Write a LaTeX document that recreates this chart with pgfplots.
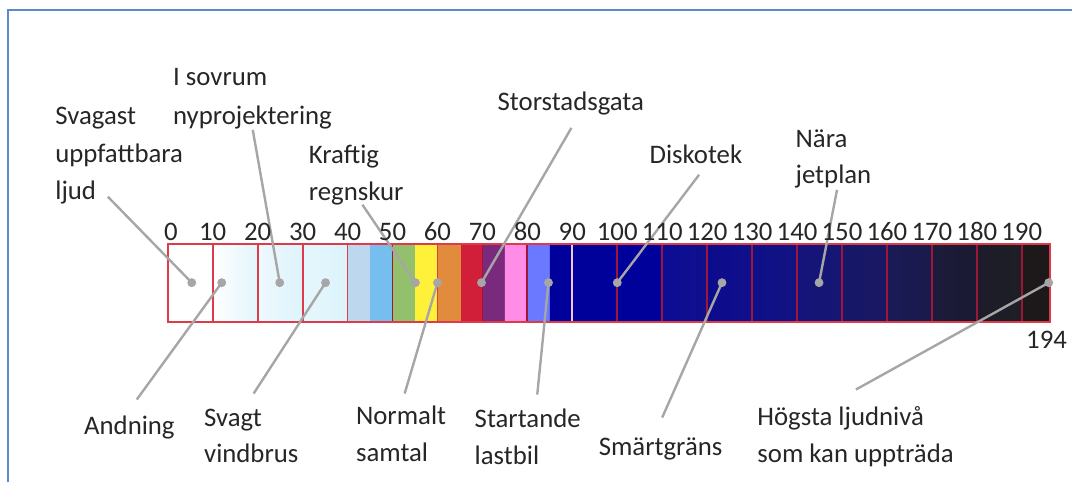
\documentclass[border=0pt]{standalone}
\usepackage{pgfplots}
\pgfplotsset{compat=1.18}
\usepackage{fontspec}
\setmainfont{Carlito}
\definecolor{txt}{HTML}{262626}
\definecolor{frameblue}{HTML}{5A8ACB}
\definecolor{lead}{HTML}{A6A6A6}
\definecolor{bord}{HTML}{DD3A4A}
\definecolor{darkbord}{HTML}{A01538}
\definecolor{whitesep}{HTML}{F0C8D7}
\tikzset{lbl/.style={font=\fontsize{13.4}{16}\selectfont, text=txt, inner sep=0pt, yshift=-1.5pt}}
\newcommand{\seg}[4]{\addplot[draw=none, left color=#3, right color=#4, forget plot] coordinates {(#1,244) (#2,244) (#2,322) (#1,322)} -- cycle;}
\newcommand{\sep}[2]{\addplot[#2, line width=0.9pt, forget plot] coordinates {(#1,244) (#1,322)};}
\begin{document}
\begin{tikzpicture}
\begin{axis}[width=536.5pt, height=241.5pt, scale only axis,
  xmin=-37.333, xmax=201.111, ymin=0, ymax=483, y dir=reverse,
  hide axis, clip=false]
\addplot[draw=none, forget plot] coordinates {(-37.333,0) (201.111,483)};
% frame
\addplot[frameblue, line width=1.3pt] coordinates {(-35.56,483) (-35.56,10) (201.111,10)};
% colour segments (dB from, dB to, left colour, right colour)
\seg{0}{10}{white}{white}
\seg{10}{20}{white}{{rgb,255:red,226;green,245;blue,252}}
\seg{20}{30}{{rgb,255:red,238;green,249;blue,253}}{{rgb,255:red,221;green,243;blue,251}}
\seg{30}{40}{{rgb,255:red,230;green,247;blue,253}}{{rgb,255:red,219;green,243;blue,251}}
\seg{40}{45}{{rgb,255:red,189;green,215;blue,238}}{{rgb,255:red,189;green,215;blue,238}}
\seg{45}{50}{{rgb,255:red,117;green,190;blue,238}}{{rgb,255:red,117;green,190;blue,238}}
\seg{50}{55}{{rgb,255:red,146;green,192;blue,108}}{{rgb,255:red,146;green,192;blue,108}}
\seg{55}{60}{{rgb,255:red,255;green,240;blue,58}}{{rgb,255:red,255;green,240;blue,58}}
\seg{60}{65.3}{{rgb,255:red,225;green,140;blue,60}}{{rgb,255:red,225;green,140;blue,60}}
\seg{65.3}{70}{{rgb,255:red,209;green,31;blue,58}}{{rgb,255:red,209;green,31;blue,58}}
\seg{70}{75}{{rgb,255:red,122;green,42;blue,124}}{{rgb,255:red,122;green,42;blue,124}}
\seg{75}{80}{{rgb,255:red,255;green,140;blue,230}}{{rgb,255:red,255;green,140;blue,230}}
\seg{80}{85}{{rgb,255:red,106;green,121;blue,255}}{{rgb,255:red,106;green,121;blue,255}}
\seg{85}{90}{{rgb,255:red,0;green,0;blue,154}}{{rgb,255:red,0;green,0;blue,154}}
\seg{90}{110}{{rgb,255:red,0;green,0;blue,154}}{{rgb,255:red,0;green,0;blue,154}}
\seg{110}{120}{{rgb,255:red,12;green,12;blue,150}}{{rgb,255:red,16;green,16;blue,140}}
\seg{120}{130}{{rgb,255:red,11;green,11;blue,142}}{{rgb,255:red,16;green,16;blue,138}}
\seg{130}{140}{{rgb,255:red,14;green,16;blue,136}}{{rgb,255:red,18;green,18;blue,130}}
\seg{140}{150}{{rgb,255:red,20;green,20;blue,124}}{{rgb,255:red,22;green,22;blue,114}}
\seg{150}{160}{{rgb,255:red,23;green,23;blue,106}}{{rgb,255:red,24;green,24;blue,98}}
\seg{160}{170}{{rgb,255:red,26;green,26;blue,88}}{{rgb,255:red,26;green,26;blue,74}}
\seg{170}{180}{{rgb,255:red,27;green,27;blue,60}}{{rgb,255:red,26;green,26;blue,50}}
\seg{180}{190}{{rgb,255:red,28;green,28;blue,44}}{{rgb,255:red,30;green,30;blue,36}}
\seg{190}{196.2}{{rgb,255:red,29;green,25;blue,26}}{{rgb,255:red,29;green,25;blue,26}}
% separators
\sep{10}{bord}\sep{20}{bord}\sep{30}{bord}\sep{40}{bord}
\sep{50}{darkbord}\sep{60}{bord}\sep{70}{darkbord}\sep{80}{darkbord}
\sep{90}{whitesep}
\sep{100}{darkbord}\sep{110}{darkbord}\sep{120}{darkbord}\sep{130}{darkbord}
\sep{140}{darkbord}\sep{150}{darkbord}\sep{160}{darkbord}\sep{170}{darkbord}
\sep{180}{darkbord}\sep{190}{darkbord}
\addplot[bord, line width=0.9pt, forget plot] coordinates {(0,244) (196.2,244) (196.2,322) (0,322)} -- cycle;
% leader lines (label end, dot)
\addplot[lead, line width=1.2pt] coordinates {(-13.33,197) (5.33,283)};
\addplot[lead, line width=1.2pt] coordinates {(18.9,130) (24.9,283)};
\addplot[lead, line width=1.2pt] coordinates {(43.3,205) (55.1,283)};
\addplot[lead, line width=1.2pt] coordinates {(89.8,128) (69.8,283)};
\addplot[lead, line width=1.2pt] coordinates {(118.2,175) (100.0,283)};
\addplot[lead, line width=1.2pt] coordinates {(148.9,190) (144.9,283)};
\addplot[lead, line width=1.2pt] coordinates {(-6.9,400) (12.0,283)};
\addplot[lead, line width=1.2pt] coordinates {(19.1,394) (35.1,283)};
\addplot[lead, line width=1.2pt] coordinates {(52.7,394) (60.0,283)};
\addplot[lead, line width=1.2pt] coordinates {(82.2,395) (84.7,283)};
\addplot[lead, line width=1.2pt] coordinates {(110.0,418) (123.3,283)};
\addplot[lead, line width=1.2pt] coordinates {(153.1,390) (196.0,283)};
% dots
\addplot[only marks, mark=*, mark size=2pt, lead] coordinates {
(5.33,283) (12.0,283) (24.9,283) (35.1,283) (55.1,283) (60.0,283)
(69.8,283) (84.7,283) (100.0,283) (123.3,283) (144.9,283) (196.0,283)};
% scale numbers
\pgfplotsinvokeforeach{10,20,...,190}{\node[lbl, anchor=base] at (axis cs:#1,238) {#1};}
\node[lbl, anchor=base] at (axis cs:0.7,238) {0};
\node[lbl, anchor=base west] at (axis cs:190.9,346) {194};
% labels
\node[lbl, anchor=base west] at (axis cs:-25.1,122) {Svagast};
\node[lbl, anchor=base west] at (axis cs:-25.1,160) {uppfattbara};
\node[lbl, anchor=base west] at (axis cs:-25.1,197) {ljud};
\node[lbl, anchor=base west] at (axis cs:1.1,83) {I sovrum};
\node[lbl, anchor=base west] at (axis cs:1.1,122) {nyprojektering};
\node[lbl, anchor=base west] at (axis cs:31.3,161) {Kraftig};
\node[lbl, anchor=base west] at (axis cs:31.3,198) {regnskur};
\node[lbl, anchor=base west] at (axis cs:73.3,108) {Storstadsgata};
\node[lbl, anchor=base west] at (axis cs:107.1,161) {Diskotek};
\node[lbl, anchor=base west] at (axis cs:139.6,145) {Nära};
\node[lbl, anchor=base west] at (axis cs:139.6,181) {jetplan};
\node[lbl, anchor=base west] at (axis cs:-18.7,432) {Andning};
\node[lbl, anchor=base west] at (axis cs:8,424) {Svagt};
\node[lbl, anchor=base west] at (axis cs:8,460) {vindbrus};
\node[lbl, anchor=base west] at (axis cs:41.8,422) {Normalt};
\node[lbl, anchor=base west] at (axis cs:41.8,459) {samtal};
\node[lbl, anchor=base west] at (axis cs:68.2,425) {Startande};
\node[lbl, anchor=base west] at (axis cs:68.2,462) {lastbil};
\node[lbl, anchor=base west] at (axis cs:95.8,453) {Smärtgräns};
\node[lbl, anchor=base west] at (axis cs:131.1,423) {Högsta ljudnivå};
\node[lbl, anchor=base west] at (axis cs:131.1,460) {som kan uppträda};
\end{axis}
\end{tikzpicture}
\end{document}
